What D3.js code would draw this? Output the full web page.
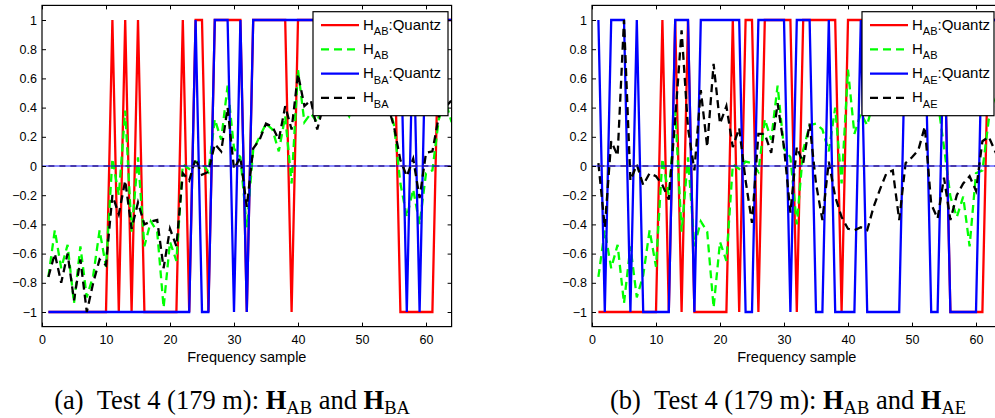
<!DOCTYPE html>
<html>
<head>
<meta charset="utf-8">
<script src="https://cdn.jsdelivr.net/npm/d3@7"></script>
<style>
  html, body { margin: 0; padding: 0; background: #fff; overflow: hidden; }
  svg { display: block; }
</style>
</head>
<body>
<svg id="fig" width="995" height="418"></svg>
<script>
// Frequency sample index (1..64)
const samples = d3.range(1, 65);

const xTickValues = [0, 10, 20, 30, 40, 50, 60];
const yTickValues = [-1, -0.8, -0.6, -0.4, -0.2, 0, 0.2, 0.4, 0.6, 0.8, 1];
const yTickLabels = ["\u22121", "\u22120.8", "\u22120.6", "\u22120.4", "\u22120.2", "0", "0.2", "0.4", "0.6", "0.8", "1"];

// (a) channel estimates H_AB and H_BA
const hAB_a = [
  -0.76, -0.44, -0.70, -0.54, -0.94, -0.55, -0.90, -0.75, -0.44, -0.69,
   0.05, -0.20,  0.38, -0.45,  0.06, -0.55, -0.38, -0.45, -0.97, -0.52,
  -0.65,  0.01, -0.02,  0.03,  0.02, -0.04,  0.32,  0.18,  0.55,  0.12,
   0.06, -0.42,  0.11,  0.20,  0.29,  0.25,  0.10,  0.34, -0.12,  0.66,
   0.30,  0.36,  0.30,  0.45,  0.40,  0.50,  0.42,  0.34,  0.45,  0.52,
   0.42,  0.48,  0.40,  0.45,  0.28, -0.12, -0.35, -0.16, -0.40, -0.05,
  -0.03,  0.32,  0.45,  0.30
];
const hBA = [
  -0.76, -0.60, -0.80, -0.60, -0.92, -0.64, -1.00, -0.80, -0.64, -0.68,
  -0.20, -0.33, -0.10, -0.43, -0.25, -0.40, -0.38, -0.37, -0.70, -0.43,
  -0.55, -0.05, -0.10,  0.05, -0.06, -0.04,  0.15,  0.10,  0.40, -0.02,
   0.06, -0.28,  0.12,  0.18,  0.29,  0.27,  0.18,  0.41,  0.25,  0.63,
   0.41,  0.45,  0.25,  0.42,  0.50,  0.45,  0.55,  0.48,  0.40,  0.50,
   0.45,  0.55,  0.50,  0.42,  0.27,  0.04, -0.07,  0.05, -0.22,  0.09,
   0.10,  0.34,  0.40,  0.45
];
const hAB_aQ = [
  -1, -1, -1, -1, -1, -1, -1, -1, -1, -1,
   1, -1,  1, -1,  1, -1, -1, -1, -1, -1,
  -1,  1, -1,  1,  1, -1,  1,  1,  1,  1,
   1, -1,  1,  1,  1,  1,  1,  1, -1,  1,
   1,  1,  1,  1,  1,  1,  1,  1,  1,  1,
   1,  1,  1,  1,  1, -1, -1, -1, -1, -1,
  -1,  1,  1,  1
];
const hBAQ = [
  -1, -1, -1, -1, -1, -1, -1, -1, -1, -1,
  -1, -1, -1, -1, -1, -1, -1, -1, -1, -1,
  -1, -1, -1,  1, -1, -1,  1,  1,  1, -1,
   1, -1,  1,  1,  1,  1,  1,  1,  1,  1,
   1,  1,  1,  1,  1,  1,  1,  1,  1,  1,
   1,  1,  1,  1,  1,  1, -1,  1, -1,  1,
   1,  1,  1,  1
];

// (b) channel estimates H_AB and H_AE
const hAB_b = [
  -0.76, -0.44, -0.70, -0.54, -0.94, -0.55, -0.90, -0.75, -0.44, -0.69,
   0.05, -0.20,  0.38, -0.45,  0.06, -0.55, -0.38, -0.45, -0.97, -0.52,
  -0.65,  0.01, -0.02,  0.03,  0.02, -0.04,  0.32,  0.18,  0.55,  0.12,
   0.06, -0.40,  0.11,  0.28,  0.29,  0.25,  0.10,  0.40, -0.12,  0.66,
   0.22,  0.36,  0.28,  0.45,  0.40,  0.50,  0.42,  0.34,  0.45,  0.52,
   0.42,  0.48,  0.40,  0.45,  0.13, -0.21, -0.35, -0.21, -0.55, -0.05,
  -0.03,  0.32,  0.45,  0.30
];
const hAE = [
   0.02, -0.42,  0.17,  0.07,  1.00, -0.10,  0.01, -0.13, -0.05, -0.07,
  -0.13, -0.23,  0.32,  0.93,  0.26, -0.03,  0.52,  0.13,  0.70,  0.29,
   0.41,  0.13,  0.26, -0.10, -0.39,  0.22,  0.22,  0.09,  0.43,  0.13,
  -0.32,  0.13,  0.02,  0.29, -0.12, -0.37,  0.03, -0.21, -0.35, -0.43,
  -0.44, -0.42, -0.44, -0.28, -0.16, -0.05, -0.03, -0.37,  0.02,  0.06,
   0.11,  0.27, -0.26, -0.36, -0.08, -0.37, -0.20, -0.12, -0.07, -0.17,
   0.17,  0.20,  0.10,  0.15
];
const hAB_bQ = [
  -1, -1, -1, -1, -1, -1, -1, -1, -1, -1,
   1, -1,  1, -1,  1, -1, -1, -1, -1, -1,
  -1,  1, -1,  1,  1, -1,  1,  1,  1,  1,
   1, -1,  1,  1,  1,  1,  1,  1, -1,  1,
   1,  1,  1,  1,  1,  1,  1,  1,  1,  1,
   1,  1,  1,  1,  1, -1, -1, -1, -1, -1,
  -1,  1,  1,  1
];
const hAEQ = [
   1, -1,  1,  1,  1, -1,  1, -1, -1, -1,
  -1, -1,  1,  1,  1, -1,  1,  1,  1,  1,
   1,  1,  1, -1, -1,  1,  1,  1,  1,  1,
  -1,  1,  1,  1, -1, -1,  1, -1, -1, -1,
  -1,  1, -1, -1, -1, -1, -1, -1,  1,  1,
   1,  1, -1, -1,  1, -1, -1, -1, -1, -1,
   1,  1,  1,  1
];

const SANS = "'Liberation Sans', Arial, Helvetica, sans-serif";
const SERIF = "'Liberation Serif', 'Times New Roman', Times, serif";

const panels = [
  {
    id: "a", left: 42, legendLeft: 313, legendWidth: 135,
    series: [
      { values: hAB_aQ, color: "#ff0000", dash: null, main: "H", sub: "AB", tail: ":Quantz" },
      { values: hAB_a,  color: "#00ff00", dash: "8,5", main: "H", sub: "AB", tail: "" },
      { values: hBAQ,   color: "#0000ff", dash: null, main: "H", sub: "BA", tail: ":Quantz" },
      { values: hBA,    color: "#000000", dash: "8,5", main: "H", sub: "BA", tail: "" }
    ],
    caption: { x: 232, tag: "(a)", second: "BA" }
  },
  {
    id: "b", left: 592, legendLeft: 862, legendWidth: 132,
    series: [
      { values: hAB_bQ, color: "#ff0000", dash: null, main: "H", sub: "AB", tail: ":Quantz" },
      { values: hAB_b,  color: "#00ff00", dash: "8,5", main: "H", sub: "AB", tail: "" },
      { values: hAEQ,   color: "#0000ff", dash: null, main: "H", sub: "AE", tail: ":Quantz" },
      { values: hAE,    color: "#000000", dash: "8,5", main: "H", sub: "AE", tail: "" }
    ],
    caption: { x: 788, tag: "(b)", second: "AE" }
  }
];

const svg = d3.select("#fig");
const plotTop = 5.4, plotBottom = 326.6, unitPx = 6.4;

panels.forEach(p => {
  const x = d3.scaleLinear().domain([0, 64]).range([p.left, p.left + 64 * unitPx]);
  const y = d3.scaleLinear().domain([-1.1, 1.1]).range([plotBottom, plotTop]);
  const g = svg.append("g").attr("class", "panel-" + p.id);

  const clipId = "clip-" + p.id;
  svg.append("clipPath").attr("id", clipId).append("rect")
    .attr("x", x(0)).attr("y", plotTop)
    .attr("width", x(64) - x(0)).attr("height", plotBottom - plotTop);

  const plot = g.append("g").attr("clip-path", `url(#${clipId})`);

  const line = d3.line().x((d, i) => x(samples[i])).y(d => y(d));

  p.series.forEach(s => {
    plot.append("path")
      .datum(s.values)
      .attr("d", line)
      .attr("fill", "none")
      .attr("stroke", s.color)
      .attr("stroke-width", 2.3)
      .attr("stroke-linejoin", "miter")
      .attr("stroke-dasharray", s.dash);
  });

  // reference line at zero
  plot.append("line")
    .attr("x1", x(1)).attr("x2", x(64))
    .attr("y1", y(0)).attr("y2", y(0))
    .attr("stroke", "#5a3a3a").attr("stroke-width", 1.4)
    .attr("stroke-dasharray", "6,5");
  plot.append("line")
    .attr("x1", x(0)).attr("x2", x(64))
    .attr("y1", y(0)).attr("y2", y(0))
    .attr("stroke", "#0000ff").attr("stroke-width", 0.9);

  // axes with inward ticks on all four sides
  const tickLen = 4;
  const gx = g.append("g").attr("transform", `translate(0,${plotBottom})`)
    .call(d3.axisBottom(x).tickValues(xTickValues).tickSizeInner(-tickLen).tickSizeOuter(0).tickPadding(9));
  const gxt = g.append("g").attr("transform", `translate(0,${plotTop})`)
    .call(d3.axisTop(x).tickValues(xTickValues).tickSizeInner(-tickLen).tickSizeOuter(0).tickFormat(""));
  const gy = g.append("g").attr("transform", `translate(${x(0)},0)`)
    .call(d3.axisLeft(y).tickValues(yTickValues).tickSizeInner(-tickLen).tickSizeOuter(0).tickPadding(5)
      .tickFormat((d, i) => yTickLabels[i]));
  const gyr = g.append("g").attr("transform", `translate(${x(64)},0)`)
    .call(d3.axisRight(y).tickValues(yTickValues).tickSizeInner(-tickLen).tickSizeOuter(0).tickFormat(""));

  [gx, gxt, gy, gyr].forEach(ax => {
    ax.select(".domain").remove();
    ax.selectAll("line").attr("stroke", "#000").attr("stroke-width", 1);
    ax.selectAll("text").attr("font-family", SANS).attr("font-size", 12.5).attr("fill", "#000");
  });

  g.append("rect")
    .attr("x", x(0)).attr("y", plotTop)
    .attr("width", x(64) - x(0)).attr("height", plotBottom - plotTop)
    .attr("fill", "none").attr("stroke", "#000").attr("stroke-width", 1.2);

  g.append("text")
    .attr("x", (x(0) + x(64)) / 2).attr("y", 362)
    .attr("text-anchor", "middle")
    .attr("font-family", SANS).attr("font-size", 14.5)
    .text("Frequency sample");

  // legend
  const lg = g.append("g");
  const lTop = 11.7, lHeight = 104;
  lg.append("rect")
    .attr("x", p.legendLeft).attr("y", lTop)
    .attr("width", p.legendWidth).attr("height", lHeight)
    .attr("fill", "#fff").attr("stroke", "#000").attr("stroke-width", 1.2);
  p.series.forEach((s, i) => {
    const cy = lTop + 13.5 + i * 24.2;
    lg.append("line")
      .attr("x1", p.legendLeft + 8).attr("x2", p.legendLeft + 46)
      .attr("y1", cy).attr("y2", cy)
      .attr("stroke", s.color).attr("stroke-width", 2.3)
      .attr("stroke-dasharray", s.dash);
    const t = lg.append("text")
      .attr("x", p.legendLeft + 50).attr("y", cy + 4.5)
      .attr("font-family", SANS).attr("font-size", 15).attr("fill", "#000");
    t.append("tspan").text(s.main);
    t.append("tspan").attr("dy", 5.5).attr("font-size", 11).text(s.sub);
    if (s.tail) t.append("tspan").attr("dy", -5.5).text(s.tail);
  });

  // sub-figure caption
  const c = svg.append("text")
    .attr("x", p.caption.x).attr("y", 409)
    .attr("text-anchor", "middle")
    .attr("font-family", SERIF).attr("font-size", 26.5).attr("fill", "#000");
  c.append("tspan").text(p.caption.tag + "\u00a0\u00a0Test 4 (179 m): ");
  c.append("tspan").attr("font-weight", "bold").text("H");
  c.append("tspan").attr("dy", 5).attr("font-size", 18.5).text("AB");
  c.append("tspan").attr("dy", -5).text(" and ");
  c.append("tspan").attr("font-weight", "bold").text("H");
  c.append("tspan").attr("dy", 5).attr("font-size", 18.5).text(p.caption.second);
});
</script>
</body>
</html>
